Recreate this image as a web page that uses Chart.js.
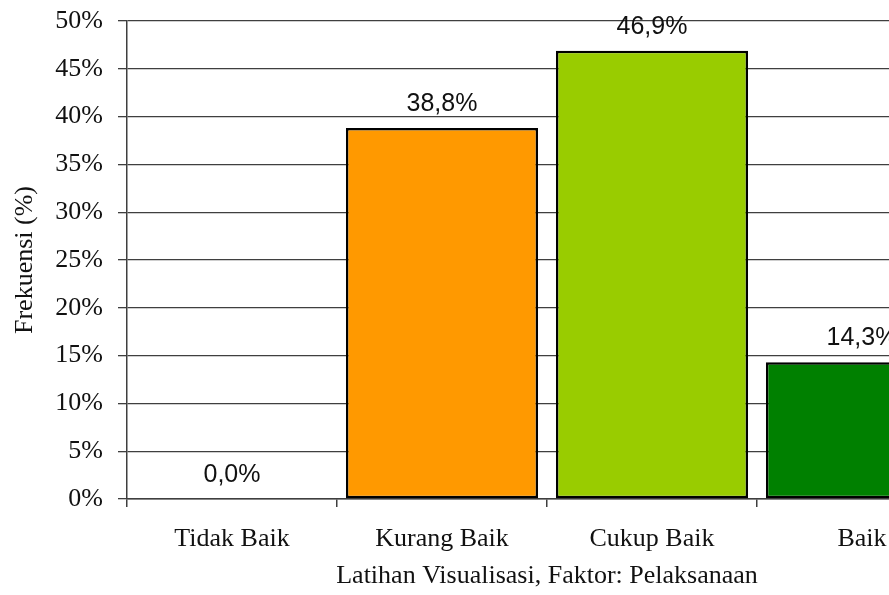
<!DOCTYPE html>
<html>
<head>
<meta charset="utf-8">
<script src="https://cdn.jsdelivr.net/npm/chart.js@4"></script>
<style>
    html, body { margin: 0; padding: 0; background: #fff; overflow: hidden; }
    #wrap { width: 889px; height: 595px; overflow: hidden; }
</style>
</head>
<body>
<div id="wrap"><canvas id="chtFrekuensi" width="1000" height="595"></canvas></div>
<script>
'use strict';
// data
var categories = ['Tidak Baik', 'Kurang Baik', 'Cukup Baik', 'Baik'];
var frekuensi = [0.0, 38.8, 46.9, 14.3];
var barColors = ['#ffffff', '#ff9900', '#99cc00', '#008000'];

var serif = 'Liberation Serif';
var lineColor = '#3f3f3f';

// value labels above the bars, "38,8%" style
var valueLabels = {
    id: 'valueLabels',
    afterDatasetsDraw(chart) {
        var ctx = chart.ctx;
        var meta = chart.getDatasetMeta(0);
        ctx.save();
        ctx.font = '25px "Liberation Sans"';
        ctx.fillStyle = '#111111';
        ctx.textAlign = 'center';
        ctx.textBaseline = 'middle';
        meta.data.forEach((bar, i) => {
            var text = frekuensi[i].toFixed(1).replace('.', ',') + '%';
            ctx.fillText(text, bar.x, bar.y - 24);
        });
        ctx.restore();
    }
};

new Chart(document.getElementById('chtFrekuensi'), {
    type: 'bar',
    data: {
        labels: categories,
        datasets: [{
            data: frekuensi,
            backgroundColor: barColors,
            borderColor: '#000000',
            borderWidth: 2.5,
            borderSkipped: false,
            barPercentage: 0.915,
            categoryPercentage: 1
        }]
    },
    options: {
        responsive: false,
        animation: false,
        devicePixelRatio: 1,
        layout: { padding: { top: 21, left: 0, right: 33, bottom: 0 } },
        plugins: {
            legend: { display: false },
            tooltip: { enabled: false }
        },
        scales: {
            x: {
                afterFit(scale) { scale.height = 96; },
                grid: {
                    offset: true,
                    drawOnChartArea: false,
                    drawTicks: true,
                    tickLength: 8,
                    color: lineColor,
                    lineWidth: 1.5
                },
                border: { display: true, color: lineColor, width: 1.5 },
                ticks: {
                    padding: 17,
                    color: '#111',
                    font: { family: serif, size: 26 }
                },
                title: {
                    display: true,
                    text: 'Latihan Visualisasi, Faktor: Pelaksanaan',
                    color: '#111',
                    font: { family: serif, size: 26 },
                    padding: { top: 0, bottom: 3 }
                }
            },
            y: {
                min: 0,
                max: 50,
                afterFit(scale) {
                    scale.width = 127;
                    scale.paddingTop = 0;
                    scale.paddingBottom = 0;
                },
                grid: {
                    color: lineColor,
                    lineWidth: 1.3,
                    tickLength: 9
                },
                border: { display: true, color: lineColor, width: 1.5 },
                ticks: {
                    stepSize: 5,
                    padding: 15,
                    color: '#111',
                    font: { family: serif, size: 26 },
                    callback: (value) => value + '%'
                },
                title: {
                    display: true,
                    text: 'Frekuensi (%)',
                    color: '#111',
                    font: { family: serif, size: 26 },
                    padding: { top: 10, bottom: 0 }
                }
            }
        }
    },
    plugins: [valueLabels]
});
</script>
</body>
</html>
